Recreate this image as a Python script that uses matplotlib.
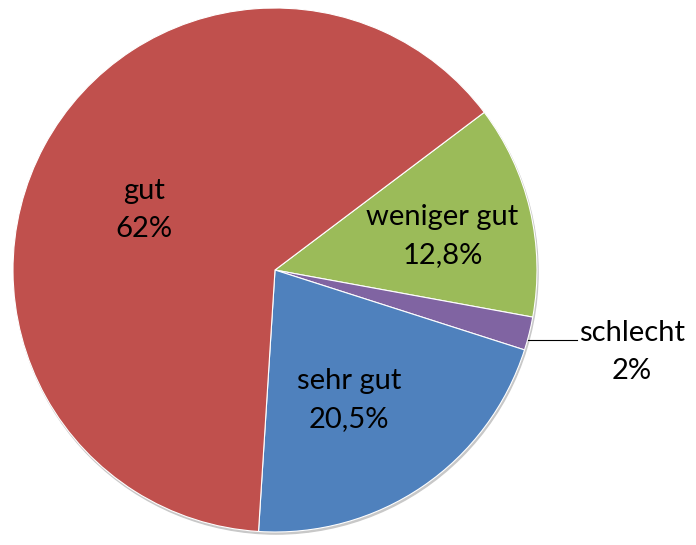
import matplotlib.pyplot as plt
from matplotlib.patches import Circle

# values as labelled in the chart (order: clockwise from the green slice)
categories = ["weniger gut", "schlecht", "sehr gut", "gut"]
values = [12.8, 2, 20.5, 62]
value_labels = ["12,8%", "2%", "20,5%", "62%"]
colors = ["#9BBB59", "#8064A2", "#4F81BD", "#C0504D"]

plt.rcParams["font.family"] = ["Lato", "DejaVu Sans"]

fig = plt.figure(figsize=(6.96, 5.45), dpi=100)
ax = fig.add_axes([0, 0, 1, 1])

# faint shadow under the pie
ax.add_patch(Circle((0.004, -0.008), 1.0, color="#c8c8c8", zorder=0))

ax.pie(values, colors=colors, startangle=37, counterclock=False,
       wedgeprops=dict(edgecolor="white", linewidth=0.8))

# label positions (in pie radii from the centre)
label_pos = [(0.639, 0.130), (1.363, -0.313), (0.282, -0.496), (-0.50, 0.229)]
for name, val, (x, y) in zip(categories, value_labels, label_pos):
    ax.text(x, y, f"{name}\n{val}", ha="center", va="center",
            fontsize=21, linespacing=1.55, color="black")

# leader line for the small slice
ax.plot([0.966, 1.153], [-0.267, -0.267], color="black", linewidth=0.8)

ax.set_xlim(-275 / 262, (696 - 275) / 262)
ax.set_ylim(-(545 - 270) / 262, 270 / 262)
ax.axis("off")

fig.savefig("out.png", dpi=100)
